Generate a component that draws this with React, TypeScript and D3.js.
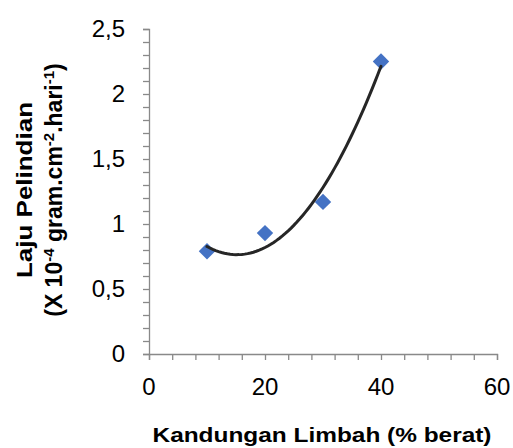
import * as d3 from "d3";
import React, { useRef, useEffect } from "react";

// data
const kandungan = [10, 20, 30, 40];
const laju = [0.79, 0.93, 1.17, 2.25];
const xTickLabels = [0, 20, 40, 60];
const yTickLabels = [0, 0.5, 1, 1.5, 2, 2.5];

const W = 513;
const H = 448;
const FONT = "'Liberation Sans', Arial, sans-serif";

// least squares quadratic (excel "poly 2" trendline)
function polyFit2(xs: number[], ys: number[]) {
  const n = xs.length;
  let s = [0, 0, 0, 0, 0];
  let t = [0, 0, 0];
  for (let i = 0; i < n; i++) {
    for (let k = 0; k < 5; k++) s[k] += Math.pow(xs[i], k);
    for (let k = 0; k < 3; k++) t[k] += Math.pow(xs[i], k) * ys[i];
  }
  const m = [
    [s[0], s[1], s[2], t[0]],
    [s[1], s[2], s[3], t[1]],
    [s[2], s[3], s[4], t[2]],
  ];
  for (let c = 0; c < 3; c++) {
    for (let r = c + 1; r < 3; r++) {
      const f = m[r][c] / m[c][c];
      for (let k = c; k < 4; k++) m[r][k] -= f * m[c][k];
    }
  }
  const coef = [0, 0, 0];
  for (let r = 2; r >= 0; r--) {
    let v = m[r][3];
    for (let k = r + 1; k < 3; k++) v -= m[r][k] * coef[k];
    coef[r] = v / m[r][r];
  }
  return (x: number) => coef[0] + coef[1] * x + coef[2] * x * x;
}

function Chart() {
  const ref = useRef<SVGSVGElement>(null);

  useEffect(() => {
    const svg = d3.select(ref.current);
    svg.selectAll("*").remove();

    const x = d3.scaleLinear().domain([0, 60]).range([149, 497]);
    const y = d3.scaleLinear().domain([0, 2.5]).range([354, 29]);
    const axisColor = "#898989";

    // y axis
    const yAxis = svg.append("g").attr("transform", `translate(${x(0)},0)`)
      .call(d3.axisLeft(y).tickValues(d3.range(0, 2.51, 0.1)).tickSize(6).tickFormat(() => ""));
    yAxis.select(".domain").attr("stroke", axisColor).attr("stroke-width", 1.3);
    yAxis.selectAll(".tick line").attr("stroke", axisColor).attr("stroke-width", 1.3);

    svg.append("g").selectAll("text")
      .data(yTickLabels)
      .enter()
      .append("text")
      .attr("x", 125)
      .attr("y", d => y(d) + 8)
      .attr("text-anchor", "end")
      .attr("font-family", FONT)
      .attr("font-size", 24)
      .attr("fill", "#000")
      .text(d => d3.format("")(d).replace(".", ","));

    // x axis
    const xAxis = svg.append("g").attr("transform", `translate(0,${y(0)})`)
      .call(d3.axisBottom(x).tickValues(d3.range(0, 60.1, 4)).tickSize(6).tickFormat(() => ""));
    xAxis.select(".domain").attr("stroke", axisColor).attr("stroke-width", 1.3);
    xAxis.selectAll(".tick line").attr("stroke", axisColor).attr("stroke-width", 1.3);

    svg.append("g").selectAll("text")
      .data(xTickLabels)
      .enter()
      .append("text")
      .attr("x", d => x(d))
      .attr("y", 395)
      .attr("text-anchor", "middle")
      .attr("font-family", FONT)
      .attr("font-size", 24)
      .attr("fill", "#000")
      .text(d => d);

    // data points - diamonds
    svg.append("g").selectAll("path")
      .data(kandungan.map((k, i) => [k, laju[i]]))
      .enter()
      .append("path")
      .attr("d", d3.symbol(d3.symbolSquare, 135)())
      .attr("transform", d => `translate(${x(d[0])},${y(d[1])}) rotate(45)`)
      .attr("fill", "#4472C4");

    // trendline
    const fit = polyFit2(kandungan, laju);
    const xs = d3.range(10, 40.01, 0.5);
    svg.append("path")
      .datum(xs)
      .attr("d", d3.line<number>().x(d => x(d)).y(d => y(fit(d))))
      .attr("fill", "none")
      .attr("stroke", "#262626")
      .attr("stroke-width", 3)
      .attr("stroke-linecap", "round");

    // axis titles
    svg.append("text")
      .attr("x", 322)
      .attr("y", 442)
      .attr("text-anchor", "middle")
      .attr("font-family", FONT)
      .attr("font-weight", "bold")
      .attr("font-size", 21)
      .attr("textLength", 339)
      .attr("lengthAdjust", "spacingAndGlyphs")
      .text("Kandungan Limbah (% berat)");

    const yt = svg.append("g").attr("transform", "translate(0,190) rotate(-90)");
    yt.append("text")
      .attr("x", 0)
      .attr("y", 32)
      .attr("text-anchor", "middle")
      .attr("font-family", FONT)
      .attr("font-weight", "bold")
      .attr("font-size", 22)
      .attr("textLength", 176)
      .attr("lengthAdjust", "spacingAndGlyphs")
      .text("Laju Pelindian");

    const t2 = yt.append("text")
      .attr("x", 0)
      .attr("y", 62)
      .attr("text-anchor", "middle")
      .attr("font-family", FONT)
      .attr("font-weight", "bold")
      .attr("font-size", 23);
    const parts: [string, boolean][] = [
      ["(X 10", false], ["-4", true], [" gram.cm", false], ["-2", true],
      [".hari", false], ["-1", true], [")", false],
    ];
    parts.forEach(([s, sup]) => {
      t2.append("tspan")
        .attr("font-size", sup ? 15 : 23)
        .attr("baseline-shift", sup ? "super" : null)
        .text(s);
    });
  }, []);

  return <svg ref={ref} width={W} height={H} style={{ position: "absolute", left: 0, top: 0, background: "#fff" }} />;
}

export default function App() {
  return <Chart />;
}
